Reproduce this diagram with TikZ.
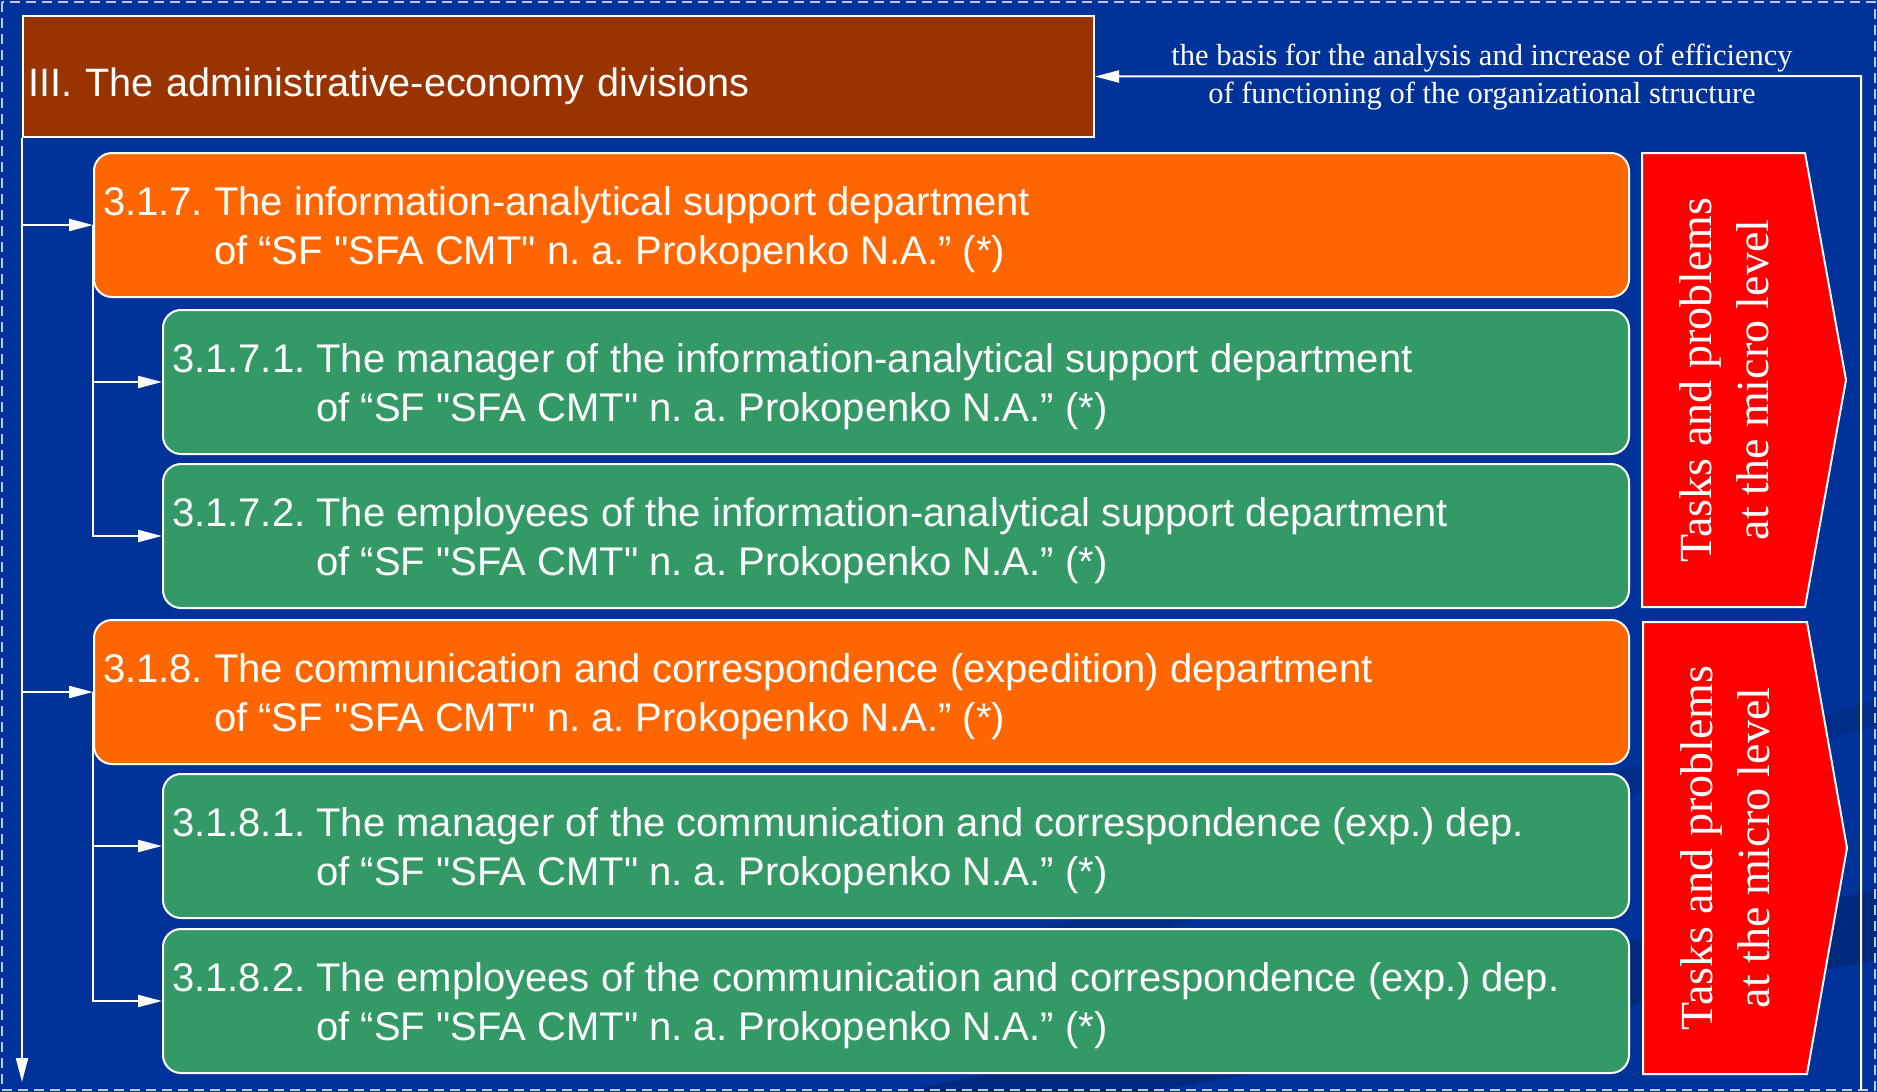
\documentclass[tikz,border=0pt]{standalone}
\usepackage{fontspec}
\setmainfont{Liberation Sans}
\newfontfamily\notefont{Liberation Serif}
\usetikzlibrary{arrows.meta}

\definecolor{bgtop}{RGB}{0,30,92}
\definecolor{bgbot}{RGB}{0,51,153}
\definecolor{bgstreak}{RGB}{0,42,125}
\definecolor{divbrown}{RGB}{153,51,0}
\definecolor{deporange}{RGB}{255,102,0}
\definecolor{staffgreen}{RGB}{51,153,102}
\definecolor{taskred}{RGB}{255,0,0}
\definecolor{framegray}{RGB}{190,200,220}

\pgfdeclareverticalshading{bgshade}{100bp}{color(0bp)=(bgbot); color(78bp)=(bgbot); color(100bp)=(bgtop)}

% the organisation, with straight inner quotes
\newcommand\org{of “SF \textquotedbl SFA CMT\textquotedbl\ n. a. Prokopenko N.A.” (*)}
% two lines, the second one indented under the title
\newcommand\twoline[3]{\parbox{#1}{\rule{0pt}{39pt}#2 #3\\\hphantom{#2 }\org}}
\frenchspacing

\begin{document}
\begin{tikzpicture}[x=1pt,y=-1pt,
    box/.style={draw=white,line width=2pt,anchor=north west,text=white,
        inner xsep=9pt,inner ysep=0pt,align=left,font=\fontsize{40}{49}\selectfont},
    dept/.style={box,fill=deporange,rounded corners=18pt,minimum width=1535pt,minimum height=144pt},
    staff/.style={box,fill=staffgreen,rounded corners=18pt,minimum width=1466pt,minimum height=144pt},
    wire/.style={white,line width=2pt},
    link/.style={wire,-{Triangle[length=24pt,width=12pt]}},
    task/.style={fill=taskred,draw=white,line width=2pt},
    tasktext/.style={text=white,rotate=90,align=center,font=\notefont\fontsize{46}{57}\selectfont},
    note/.style={text=white,font=\notefont\fontsize{30.5}{36}\selectfont}]
    \useasboundingbox (0,0) rectangle (1877,1092);
    \shade[shading=bgshade] (0,0) rectangle (1877,1092);
    %% faint streaks of the backdrop
    \fill[bgstreak] (900,1092) -- (1877,890) -- (1877,960) -- (1150,1092) -- cycle;
    \fill[bgstreak,opacity=.6] (1000,940) -- (1877,700) -- (1877,725) -- (1000,975) -- cycle;
    \draw[framegray,line width=1.5pt,dash pattern=on 10pt off 6pt] (2,2) rectangle (1875,1090);

    %% division
    \node[box,fill=divbrown,minimum width=1071pt,text width=1061pt,minimum height=121pt,inner xsep=5pt,
        text height=47pt,text depth=8pt,font=\fontsize{39.6}{49}\selectfont] (div) at (22,15)
        {III. The administrative-economy divisions};

    %% departments
    \node[dept] (d317) at (93,152)
        {\twoline{1517pt}{3.1.7.}{The information-analytical support department}};
    \node[staff] (s3171) at (162,309)
        {\twoline{1448pt}{3.1.7.1.}{The manager of the information-analytical support department}};
    \node[staff] (s3172) at (162,463)
        {\twoline{1448pt}{3.1.7.2.}{The employees of the information-analytical support department}};
    \node[dept] (d318) at (93,619)
        {\twoline{1517pt}{3.1.8.}{The communication and correspondence (expedition) department}};
    \node[staff] (s3181) at (162,773)
        {\twoline{1448pt}{3.1.8.1.}{The manager of the communication and correspondence (exp.) dep.}};
    \node[staff] (s3182) at (162,928)
        {\twoline{1448pt}{3.1.8.2.}{The employees of the communication and correspondence (exp.) dep.}};

    %% tasks
    \draw[task] (1642,153) -- (1805,153) -- (1846,380) -- (1805,607) -- (1642,607) -- cycle;
    \node[tasktext] (task1) at (1724,380) {Tasks and problems\\at the micro level};
    \draw[task] (1643,622) -- (1807,622) -- (1847,848) -- (1807,1074) -- (1643,1074) -- cycle;
    \node[tasktext] (task2) at (1725,848) {Tasks and problems\\at the micro level};

    %% links
    \coordinate (trunkend) at (22,1082);
    \draw[link] (div.south west) -- (trunkend);
    \draw[link] (div.south west) |- (d317.west);
    \draw[link] (div.south west) |- (d318.west);
    \draw[link] (d317.west) |- (s3171.west);
    \draw[link] (d317.west) |- (s3172.west);
    \draw[link] (d318.west) |- (s3181.west);
    \draw[link] (d318.west) |- (s3182.west);

    %% feedback
    \coordinate (fbfoot) at (1861,1090);
    \coordinate (fbcorner) at (1861,76);
    \draw[link] (fbfoot) -- (fbcorner) -- (div.east);
    \node[note] (fbtop) at (1482,58) {the basis for the analysis and increase of efficiency};
    \node[note] (fbbot) at (1482,96) {of functioning of the organizational structure};
\end{tikzpicture}
\end{document}
